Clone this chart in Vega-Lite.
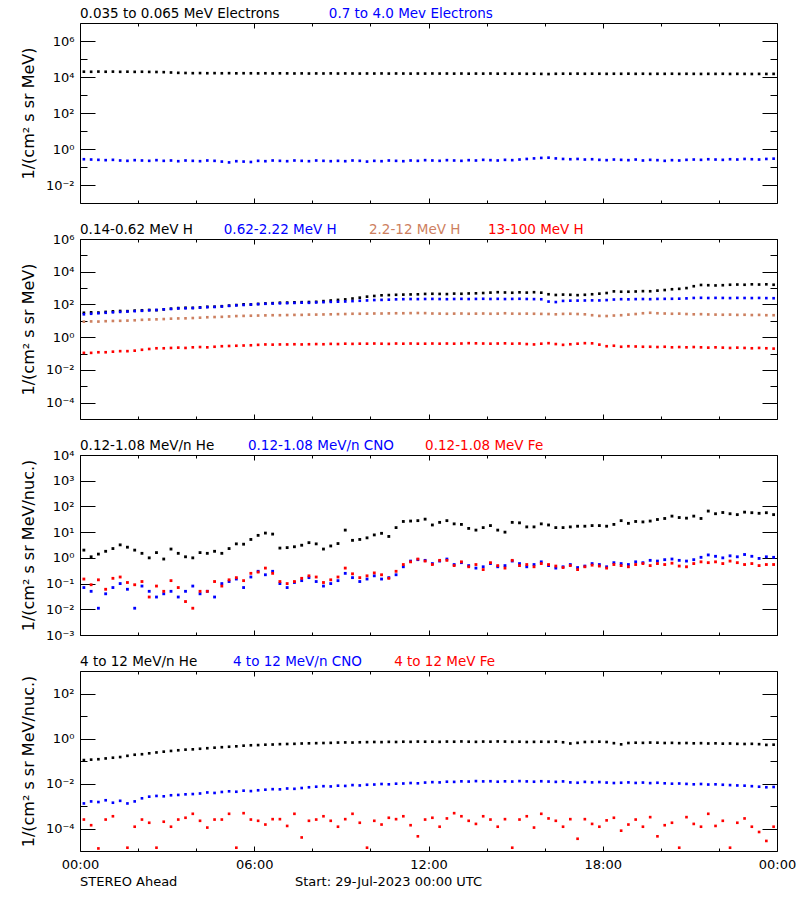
{
"$schema":"https://vega.github.io/schema/vega-lite/v6.json",
"background":"white",
"padding":{"left":19,"top":6,"right":5,"bottom":5},
"bounds":"flush",
"spacing":36,
"resolve":{"scale":{"color":"independent"}},
"config":{
 "view":{"stroke":"black","strokeWidth":1},
 "font":"DejaVu Sans",
 "axis":{"domain":false,"grid":false,"tickColor":"black","tickWidth":1,"labelColor":"black","titleColor":"black","labelFont":"DejaVu Sans","titleFont":"DejaVu Sans","titleFontWeight":"normal","labelFontSize":13,"titleFontSize":16,"labelOverlap":false,"labelFlush":false,"labelBound":false}
},
"datasets":{
"p1":[
{"m":8,"a":19800,"b":0.27},{"m":23,"a":19500,"b":0.26},{"m":38,"a":20000,"b":0.25},{"m":53,"a":19600,"b":0.24},{"m":68,"a":19900,"b":0.25},{"m":83,"a":19400,"b":0.23},{"m":98,"a":19700,"b":0.22},{"m":113,"a":19300,"b":0.24},{"m":128,"a":19600,"b":0.23},{"m":143,"a":19200,"b":0.22},{"m":158,"a":19000,"b":0.24},{"m":173,"a":18600,"b":0.22},
{"m":188,"a":17800,"b":0.23},{"m":203,"a":17000,"b":0.21},{"m":218,"a":16700,"b":0.23},{"m":233,"a":16300,"b":0.22},{"m":248,"a":16500,"b":0.21},{"m":263,"a":16200,"b":0.23},{"m":278,"a":16400,"b":0.22},{"m":293,"a":16100,"b":0.20},{"m":308,"a":16300,"b":0.18},{"m":323,"a":16000,"b":0.21},{"m":338,"a":16200,"b":0.20},{"m":353,"a":16100,"b":0.19},
{"m":368,"a":15900,"b":0.22},{"m":383,"a":16100,"b":0.21},{"m":398,"a":15800,"b":0.23},{"m":413,"a":16000,"b":0.22},{"m":428,"a":15900,"b":0.21},{"m":443,"a":15700,"b":0.23},{"m":458,"a":15900,"b":0.22},{"m":473,"a":15600,"b":0.21},{"m":488,"a":15800,"b":0.23},{"m":503,"a":15700,"b":0.22},{"m":518,"a":15900,"b":0.21},{"m":533,"a":15600,"b":0.22},
{"m":548,"a":15800,"b":0.21},{"m":563,"a":15700,"b":0.23},{"m":578,"a":15500,"b":0.22},{"m":593,"a":15700,"b":0.20},{"m":608,"a":15600,"b":0.22},{"m":623,"a":15800,"b":0.21},{"m":638,"a":15500,"b":0.23},{"m":653,"a":15700,"b":0.22},{"m":668,"a":15600,"b":0.21},{"m":683,"a":15400,"b":0.23},{"m":698,"a":15600,"b":0.22},{"m":713,"a":15500,"b":0.24},
{"m":728,"a":15700,"b":0.23},{"m":743,"a":15500,"b":0.22},{"m":758,"a":15600,"b":0.24},{"m":773,"a":15400,"b":0.23},{"m":788,"a":15600,"b":0.22},{"m":803,"a":15300,"b":0.24},{"m":818,"a":15500,"b":0.23},{"m":833,"a":15400,"b":0.25},{"m":848,"a":15600,"b":0.24},{"m":863,"a":15300,"b":0.23},{"m":878,"a":15500,"b":0.25},{"m":893,"a":15200,"b":0.24},
{"m":908,"a":15400,"b":0.26},{"m":923,"a":15100,"b":0.28},{"m":938,"a":15300,"b":0.30},{"m":953,"a":14900,"b":0.32},{"m":968,"a":14600,"b":0.33},{"m":983,"a":15100,"b":0.30},{"m":998,"a":15300,"b":0.28},{"m":1013,"a":15200,"b":0.27},{"m":1028,"a":15400,"b":0.28},{"m":1043,"a":15100,"b":0.26},{"m":1058,"a":15300,"b":0.27},{"m":1073,"a":15200,"b":0.25},
{"m":1088,"a":15000,"b":0.24},{"m":1103,"a":15200,"b":0.26},{"m":1118,"a":15100,"b":0.25},{"m":1133,"a":15300,"b":0.24},{"m":1148,"a":15000,"b":0.26},{"m":1163,"a":15200,"b":0.23},{"m":1178,"a":14900,"b":0.25},{"m":1193,"a":15100,"b":0.24},{"m":1208,"a":15000,"b":0.22},{"m":1223,"a":15200,"b":0.24},{"m":1238,"a":14900,"b":0.23},{"m":1253,"a":15100,"b":0.25},
{"m":1268,"a":15000,"b":0.26},{"m":1283,"a":14800,"b":0.25},{"m":1298,"a":15000,"b":0.27},{"m":1313,"a":14900,"b":0.26},{"m":1328,"a":15100,"b":0.25},{"m":1343,"a":14800,"b":0.27},{"m":1358,"a":15000,"b":0.26},{"m":1373,"a":14900,"b":0.28},{"m":1388,"a":14700,"b":0.27},{"m":1403,"a":14900,"b":0.26},{"m":1418,"a":14800,"b":0.28},{"m":1433,"a":14900,"b":0.29}
],
"p2":[
{"m":8,"a":31,"b":25,"c":8.9,"d":0.11},{"m":23,"a":33,"b":27,"c":9.2,"d":0.11},{"m":38,"a":32,"b":29,"c":9.0,"d":0.12},{"m":53,"a":35,"b":31,"c":9.5,"d":0.12},
{"m":68,"a":38,"b":33,"c":9.8,"d":0.13},{"m":83,"a":40,"b":35,"c":10,"d":0.14},{"m":98,"a":39,"b":37,"c":10.3,"d":0.14},{"m":113,"a":42,"b":39,"c":10.8,"d":0.15},
{"m":128,"a":44,"b":41,"c":11.5,"d":0.17},{"m":143,"a":46,"b":44,"c":12,"d":0.19},{"m":158,"a":45,"b":46,"c":12.3,"d":0.21},{"m":173,"a":50,"b":50,"c":12.8,"d":0.21},
{"m":188,"a":55,"b":53,"c":13.5,"d":0.22},{"m":203,"a":60,"b":57,"c":14,"d":0.23},{"m":218,"a":63,"b":58,"c":14.2,"d":0.22},{"m":233,"a":62,"b":60,"c":14.8,"d":0.24},
{"m":248,"a":66,"b":64,"c":15.5,"d":0.25},{"m":263,"a":72,"b":68,"c":16.5,"d":0.24},{"m":278,"a":73,"b":70,"c":17,"d":0.26},{"m":293,"a":78,"b":75,"c":17.5,"d":0.28},
{"m":308,"a":85,"b":82,"c":18.5,"d":0.29},{"m":323,"a":92,"b":88,"c":19.5,"d":0.30},{"m":338,"a":102,"b":93,"c":20,"d":0.31},{"m":353,"a":100,"b":98,"c":20.5,"d":0.32},
{"m":368,"a":108,"b":104,"c":21,"d":0.34},{"m":383,"a":115,"b":110,"c":21.5,"d":0.36},{"m":398,"a":120,"b":114,"c":22,"d":0.35},{"m":413,"a":128,"b":117,"c":22,"d":0.36},
{"m":428,"a":130,"b":120,"c":22.5,"d":0.36},{"m":443,"a":135,"b":124,"c":23,"d":0.37},{"m":458,"a":138,"b":128,"c":23,"d":0.36},{"m":473,"a":141,"b":126,"c":24,"d":0.37},
{"m":488,"a":145,"b":132,"c":24,"d":0.38},{"m":503,"a":160,"b":138,"c":24.5,"d":0.37},{"m":518,"a":175,"b":144,"c":25,"d":0.39},{"m":533,"a":190,"b":148,"c":25.5,"d":0.38},
{"m":548,"a":204,"b":152,"c":26,"d":0.40},{"m":563,"a":230,"b":160,"c":27,"d":0.39},{"m":578,"a":260,"b":168,"c":27,"d":0.40},{"m":593,"a":300,"b":176,"c":27.5,"d":0.40},
{"m":608,"a":330,"b":186,"c":28,"d":0.41},{"m":623,"a":363,"b":190,"c":28,"d":0.40},{"m":638,"a":375,"b":196,"c":28.5,"d":0.39},{"m":653,"a":390,"b":205,"c":29,"d":0.41},
{"m":668,"a":400,"b":210,"c":29,"d":0.40},{"m":683,"a":410,"b":214,"c":29.5,"d":0.41},{"m":698,"a":417,"b":212,"c":30,"d":0.40},{"m":713,"a":440,"b":216,"c":29.5,"d":0.40},
{"m":728,"a":450,"b":218,"c":28,"d":0.41},{"m":743,"a":440,"b":214,"c":27.5,"d":0.40},{"m":758,"a":430,"b":210,"c":27,"d":0.41},{"m":773,"a":460,"b":216,"c":27.5,"d":0.40},
{"m":788,"a":450,"b":220,"c":28,"d":0.41},{"m":803,"a":470,"b":214,"c":27,"d":0.43},{"m":818,"a":480,"b":218,"c":27.5,"d":0.42},{"m":833,"a":500,"b":222,"c":28,"d":0.41},
{"m":848,"a":530,"b":216,"c":27,"d":0.40},{"m":863,"a":560,"b":220,"c":27.5,"d":0.41},{"m":878,"a":540,"b":214,"c":29,"d":0.42},{"m":893,"a":520,"b":218,"c":27.5,"d":0.40},
{"m":908,"a":550,"b":222,"c":27,"d":0.41},{"m":923,"a":530,"b":216,"c":27.5,"d":0.38},{"m":938,"a":560,"b":212,"c":27,"d":0.36},{"m":953,"a":525,"b":208,"c":26.5,"d":0.40},
{"m":968,"a":420,"b":150,"c":26,"d":0.43},{"m":983,"a":380,"b":140,"c":25,"d":0.38},{"m":998,"a":400,"b":165,"c":26.5,"d":0.34},{"m":1013,"a":390,"b":170,"c":27,"d":0.37},
{"m":1028,"a":370,"b":172,"c":26,"d":0.40},{"m":1043,"a":390,"b":175,"c":25,"d":0.43},{"m":1058,"a":420,"b":178,"c":22,"d":0.42},{"m":1073,"a":457,"b":176,"c":20,"d":0.35},
{"m":1088,"a":500,"b":185,"c":19.6,"d":0.28},{"m":1103,"a":630,"b":200,"c":21,"d":0.30},{"m":1118,"a":600,"b":210,"c":22,"d":0.26},{"m":1133,"a":600,"b":205,"c":24,"d":0.28},
{"m":1148,"a":620,"b":212,"c":26,"d":0.27},{"m":1163,"a":650,"b":215,"c":29,"d":0.26},{"m":1178,"a":640,"b":210,"c":31,"d":0.26},{"m":1193,"a":700,"b":218,"c":29,"d":0.25},
{"m":1208,"a":760,"b":220,"c":28,"d":0.26},{"m":1223,"a":850,"b":222,"c":27,"d":0.24},{"m":1238,"a":900,"b":225,"c":27.5,"d":0.25},{"m":1253,"a":1000,"b":235,"c":26,"d":0.24},
{"m":1268,"a":1300,"b":250,"c":25,"d":0.25},{"m":1283,"a":1550,"b":255,"c":25.5,"d":0.24},{"m":1298,"a":1500,"b":248,"c":24.5,"d":0.23},{"m":1313,"a":1450,"b":252,"c":24,"d":0.24},
{"m":1328,"a":1500,"b":250,"c":23.5,"d":0.23},{"m":1343,"a":1600,"b":245,"c":24,"d":0.22},{"m":1358,"a":1650,"b":252,"c":23,"d":0.23},{"m":1373,"a":1600,"b":248,"c":23.5,"d":0.22},
{"m":1388,"a":1700,"b":246,"c":22.5,"d":0.21},{"m":1403,"a":1650,"b":250,"c":23,"d":0.22},{"m":1418,"a":1700,"b":244,"c":22,"d":0.21},{"m":1433,"a":1600,"b":240,"c":22,"d":0.20}
],
"p3":[
{"m":8,"a":2.0,"b":0.07,"c":0.15},{"m":23,"a":1.1,"b":0.05,"c":0.09},{"m":38,"a":1.4,"b":0.011,"c":0.14},{"m":53,"a":1.8,"b":0.04,"c":0.06},
{"m":68,"a":2.3,"b":0.07,"c":0.16},{"m":83,"a":3.2,"b":0.1,"c":0.18},{"m":98,"a":2.6,"b":0.06,"c":0.11},{"m":113,"a":2.0,"b":0.011,"c":0.09},
{"m":128,"a":1.5,"b":0.08,"c":0.12},{"m":143,"a":1.0,"b":0.05,"c":0.03},{"m":158,"a":1.6,"b":0.03,"c":0.08},{"m":173,"a":0.9,"b":0.04,"c":0.05},
{"m":188,"a":2.2,"b":0.05,"c":0.13},{"m":203,"a":1.5,"b":0.03,"c":0.07},{"m":218,"a":1.1,"b":0.05,"c":0.02},{"m":233,"a":1.0,"b":0.08,"c":0.011},
{"m":248,"a":1.6,"b":0.04,"c":0.05},{"m":263,"a":1.5,"b":0.05,"c":0.05},{"m":278,"a":1.8,"b":0.03,"c":0.12},{"m":293,"a":1.5,"b":0.1,"c":0.08},
{"m":308,"a":2.3,"b":0.12,"c":0.14},{"m":323,"a":3.5,"b":0.15,"c":0.17},{"m":338,"a":3.4,"b":0.07,"c":0.13},{"m":353,"a":5.2,"b":0.18,"c":0.25},
{"m":368,"a":7.5,"b":0.3,"c":0.28},{"m":383,"a":9.2,"b":0.22,"c":0.4},{"m":398,"a":8.4,"b":0.3,"c":0.25},{"m":413,"a":2.4,"b":0.1,"c":0.12},
{"m":428,"a":2.5,"b":0.07,"c":0.1},{"m":443,"a":2.7,"b":0.11,"c":0.12},{"m":458,"a":3.1,"b":0.13,"c":0.16},{"m":473,"a":3.9,"b":0.17,"c":0.2},
{"m":488,"a":3.5,"b":0.12,"c":0.18},{"m":503,"a":2.2,"b":0.08,"c":0.11},{"m":518,"a":2.9,"b":0.1,"c":0.14},{"m":533,"a":3.6,"b":0.13,"c":0.18},
{"m":548,"a":12,"b":0.25,"c":0.4},{"m":563,"a":4.8,"b":0.17,"c":0.24},{"m":578,"a":5.2,"b":0.12,"c":0.17},{"m":593,"a":6.0,"b":0.15,"c":0.2},
{"m":608,"a":7.8,"b":0.2,"c":0.26},{"m":623,"a":9.0,"b":0.15,"c":0.22},{"m":638,"a":6.8,"b":0.17,"c":0.16},{"m":653,"a":15,"b":0.22,"c":0.3},
{"m":668,"a":26,"b":0.45,"c":0.55},{"m":683,"a":27,"b":0.75,"c":0.7},{"m":698,"a":28,"b":0.85,"c":0.9},{"m":713,"a":32,"b":0.8,"c":0.75},
{"m":728,"a":19,"b":0.6,"c":0.55},{"m":743,"a":24,"b":0.75,"c":0.8},{"m":758,"a":28,"b":0.9,"c":0.8},{"m":773,"a":21,"b":0.55,"c":0.5},
{"m":788,"a":20,"b":0.65,"c":0.7},{"m":803,"a":14,"b":0.5,"c":0.45},{"m":818,"a":12,"b":0.4,"c":0.55},{"m":833,"a":15,"b":0.45,"c":0.35},
{"m":848,"a":18,"b":0.6,"c":0.65},{"m":863,"a":12,"b":0.45,"c":0.5},{"m":878,"a":10,"b":0.5,"c":0.4},{"m":893,"a":24,"b":0.75,"c":0.8},
{"m":908,"a":23,"b":0.6,"c":0.5},{"m":923,"a":16,"b":0.45,"c":0.55},{"m":938,"a":16,"b":0.55,"c":0.45},{"m":953,"a":21,"b":0.7,"c":0.6},
{"m":968,"a":19,"b":0.5,"c":0.55},{"m":983,"a":15,"b":0.4,"c":0.48},{"m":998,"a":15,"b":0.45,"c":0.42},{"m":1013,"a":16,"b":0.55,"c":0.5},
{"m":1028,"a":17,"b":0.42,"c":0.35},{"m":1043,"a":17,"b":0.48,"c":0.45},{"m":1058,"a":18,"b":0.6,"c":0.52},{"m":1073,"a":18,"b":0.55,"c":0.48},
{"m":1088,"a":17,"b":0.45,"c":0.4},{"m":1103,"a":20,"b":0.65,"c":0.55},{"m":1118,"a":28,"b":0.6,"c":0.5},{"m":1133,"a":22,"b":0.55,"c":0.45},
{"m":1148,"a":26,"b":0.7,"c":0.55},{"m":1163,"a":25,"b":0.65,"c":0.6},{"m":1178,"a":27,"b":0.8,"c":0.5},{"m":1193,"a":31,"b":0.75,"c":0.6},
{"m":1208,"a":34,"b":0.85,"c":0.55},{"m":1223,"a":42,"b":0.9,"c":0.62},{"m":1238,"a":37,"b":0.8,"c":0.48},{"m":1253,"a":35,"b":0.75,"c":0.45},
{"m":1268,"a":42,"b":0.85,"c":0.6},{"m":1283,"a":34,"b":1.05,"c":0.7},{"m":1298,"a":66,"b":1.3,"c":0.65},{"m":1313,"a":52,"b":1.15,"c":0.7},
{"m":1328,"a":58,"b":1.0,"c":0.6},{"m":1343,"a":52,"b":1.2,"c":0.75},{"m":1358,"a":48,"b":1.1,"c":0.65},{"m":1373,"a":60,"b":1.35,"c":0.55},
{"m":1388,"a":57,"b":1.15,"c":0.6},{"m":1403,"a":54,"b":0.95,"c":0.5},{"m":1418,"a":57,"b":1.1,"c":0.55},{"m":1433,"a":48,"b":1.05,"c":0.55}
],
"p4":[
{"m":8,"a":0.11,"b":0.0013,"c":0.00025},{"m":23,"a":0.115,"b":0.0016,"c":0.00014},{"m":38,"a":0.12,"b":0.0015,"c":0.000013},{"m":53,"a":0.13,"b":0.0018,"c":0.00025},
{"m":68,"a":0.14,"b":0.0014,"c":0.00035},{"m":83,"a":0.15,"b":0.0017},{"m":98,"a":0.17,"b":0.0013,"c":0.000014},{"m":113,"a":0.19,"b":0.0016,"c":0.00012},
{"m":128,"a":0.2,"b":0.0022,"c":0.00025},{"m":143,"a":0.22,"b":0.0026,"c":0.00018},{"m":158,"a":0.24,"b":0.0028,"c":0.000014},{"m":173,"a":0.26,"b":0.0027,"c":0.0002},
{"m":188,"a":0.28,"b":0.0030,"c":0.00012},{"m":203,"a":0.3,"b":0.0031,"c":0.00025},{"m":218,"a":0.32,"b":0.0033,"c":0.0003},{"m":233,"a":0.33,"b":0.0034,"c":0.00045},
{"m":248,"a":0.35,"b":0.0036,"c":0.00022},{"m":263,"a":0.37,"b":0.0040,"c":0.00011},{"m":278,"a":0.39,"b":0.0038,"c":0.00025},{"m":293,"a":0.41,"b":0.0042,"c":0.00025},
{"m":308,"a":0.43,"b":0.0045,"c":0.00045},{"m":323,"a":0.45,"b":0.0043,"c":0.000014},{"m":338,"a":0.48,"b":0.0048,"c":0.00048},{"m":353,"a":0.5,"b":0.0046,"c":0.00025},
{"m":368,"a":0.51,"b":0.0050,"c":0.00022},{"m":383,"a":0.53,"b":0.0053,"c":0.00015},{"m":398,"a":0.54,"b":0.0056,"c":0.00026},{"m":413,"a":0.56,"b":0.0055,"c":0.00026},
{"m":428,"a":0.57,"b":0.0060,"c":0.00013},{"m":443,"a":0.58,"b":0.0058,"c":0.00045},{"m":458,"a":0.6,"b":0.0063,"c":0.00004},{"m":473,"a":0.61,"b":0.0068,"c":0.00022},
{"m":488,"a":0.62,"b":0.0072,"c":0.00025},{"m":503,"a":0.63,"b":0.0076,"c":0.00035},{"m":518,"a":0.64,"b":0.0074,"c":0.00022},{"m":533,"a":0.66,"b":0.0080,"c":0.00012},
{"m":548,"a":0.67,"b":0.0078,"c":0.00026},{"m":563,"a":0.66,"b":0.0085,"c":0.00045},{"m":578,"a":0.68,"b":0.0082,"c":0.00018},{"m":593,"a":0.69,"b":0.0088,"c":0.000014},
{"m":608,"a":0.7,"b":0.0090,"c":0.00022},{"m":623,"a":0.69,"b":0.0095,"c":0.00015},{"m":638,"a":0.71,"b":0.0092,"c":0.0003},{"m":653,"a":0.7,"b":0.0098,"c":0.00026},
{"m":668,"a":0.72,"b":0.0100,"c":0.00035},{"m":683,"a":0.71,"b":0.0105,"c":0.00014},{"m":698,"a":0.73,"b":0.0102,"c":0.000045},{"m":713,"a":0.72,"b":0.0110,"c":0.00025},
{"m":728,"a":0.72,"b":0.0115,"c":0.0003},{"m":743,"a":0.71,"b":0.0112,"c":0.00012},{"m":758,"a":0.73,"b":0.0120,"c":0.00028},{"m":773,"a":0.72,"b":0.0118,"c":0.00048},
{"m":788,"a":0.74,"b":0.0125,"c":0.00035},{"m":803,"a":0.72,"b":0.0122,"c":0.00022},{"m":818,"a":0.71,"b":0.0128,"c":0.00016},{"m":833,"a":0.73,"b":0.0124,"c":0.00035},
{"m":848,"a":0.72,"b":0.0126,"c":0.00025},{"m":863,"a":0.74,"b":0.0120,"c":0.00012},{"m":878,"a":0.73,"b":0.0125,"c":0.00026},{"m":893,"a":0.71,"b":0.0122,"c":0.000014},
{"m":908,"a":0.72,"b":0.0128,"c":0.00025},{"m":923,"a":0.7,"b":0.0124,"c":0.00035},{"m":938,"a":0.71,"b":0.0120,"c":0.00011},{"m":953,"a":0.72,"b":0.0126,"c":0.00045},
{"m":968,"a":0.71,"b":0.0122,"c":0.00028},{"m":983,"a":0.73,"b":0.0118,"c":0.00022},{"m":998,"a":0.68,"b":0.0124,"c":0.00012},{"m":1013,"a":0.6,"b":0.0112,"c":0.00026},
{"m":1028,"a":0.64,"b":0.0108,"c":0.000035},{"m":1043,"a":0.7,"b":0.0118,"c":0.00026},{"m":1058,"a":0.71,"b":0.0112,"c":0.00016},{"m":1073,"a":0.72,"b":0.0116,"c":0.00012},
{"m":1088,"a":0.7,"b":0.0110,"c":0.00023},{"m":1103,"a":0.62,"b":0.0105,"c":0.0003},{"m":1118,"a":0.55,"b":0.0108,"c":0.00008},{"m":1133,"a":0.63,"b":0.0112,"c":0.00015},
{"m":1148,"a":0.65,"b":0.0106,"c":0.00025},{"m":1163,"a":0.64,"b":0.0110,"c":0.00012},{"m":1178,"a":0.66,"b":0.0104,"c":0.00032},{"m":1193,"a":0.65,"b":0.0108,"c":0.000045},
{"m":1208,"a":0.63,"b":0.0102,"c":0.00014},{"m":1223,"a":0.64,"b":0.0098,"c":0.00018},{"m":1238,"a":0.62,"b":0.0100,"c":0.000014},{"m":1253,"a":0.63,"b":0.0096,"c":0.00032},
{"m":1268,"a":0.61,"b":0.0092,"c":0.00016},{"m":1283,"a":0.62,"b":0.0095,"c":0.00012},{"m":1298,"a":0.6,"b":0.0090,"c":0.00045},{"m":1313,"a":0.61,"b":0.0092,"c":0.00013},
{"m":1328,"a":0.59,"b":0.0088,"c":0.00022},{"m":1343,"a":0.6,"b":0.0085,"c":0.000014},{"m":1358,"a":0.58,"b":0.0082,"c":0.00018},{"m":1373,"a":0.57,"b":0.0080,"c":0.00028},
{"m":1388,"a":0.58,"b":0.0076,"c":0.00012},{"m":1403,"a":0.56,"b":0.0072,"c":0.00007},{"m":1418,"a":0.52,"b":0.0068,"c":0.000028},{"m":1433,"a":0.53,"b":0.0070,"c":0.00012}
]
},
"vconcat":[
{
"width":697,"height":180,
"resolve":{"axis":{"x":"independent","y":"independent"}},
"layer":[
 {"data":{"name":"p1"},
  "transform":[{"fold":["a","b"],"as":["s","v"]}],
  "mark":{"type":"square","size":7,"opacity":1},
  "encoding":{
   "x":{"field":"m","type":"quantitative","scale":{"domain":[0,1440],"nice":false,"zero":false},"axis":{"orient":"bottom","values":[0,120,240,360,480,600,720,840,960,1080,1200,1320,1440],"title":null,"labels":false,"tickSize":{"condition":{"test":"datum.value % 360 == 0","value":-5},"value":-3}}},
   "y":{"field":"v","type":"quantitative","scale":{"type":"log","domain":[0.001,10000000],"nice":false},"axis":{"orient":"left","values":[0.01,0.1,1,10,100,1000,10000,100000,1000000],"title":"1/(cm² s sr MeV)","titlePadding":9,"labelPadding":21,"tickSize":{"condition":{"test":"abs(round(log(datum.value)/LN10)) % 2 == 0","value":-15},"value":-7},"labelExpr":"abs(round(log(datum.value)/LN10)) % 2 == 1 ? '' : '10' + replace(replace(replace(replace(replace(''+round(log(datum.value)/LN10),'-','⁻'),'0','⁰'),'2','²'),'4','⁴'),'6','⁶')"}},
   "color":{"field":"s","type":"nominal","scale":{"domain":["a","b"],"range":["#000000","#0000ff"]},"legend":null}
  }},
 {"data":{"values":[{"m":0,"v":10000000,"s":"a","label":"0.035 to 0.065 MeV Electrons"},{"m":514,"v":10000000,"s":"b","label":"0.7 to 4.0 Mev Electrons"}]},
  "mark":{"type":"text","align":"left","baseline":"alphabetic","dy":-5,"fontSize":13.5},
  "encoding":{
   "x":{"field":"m","type":"quantitative","scale":{"domain":[0,1440],"nice":false,"zero":false},"axis":{"orient":"top","values":[0,120,240,360,480,600,720,840,960,1080,1200,1320,1440],"title":null,"labels":false,"tickSize":{"condition":{"test":"datum.value % 360 == 0","value":-5},"value":-3}}},
   "y":{"field":"v","type":"quantitative","scale":{"type":"log","domain":[0.001,10000000],"nice":false},"axis":{"orient":"right","values":[0.01,0.1,1,10,100,1000,10000,100000,1000000],"title":null,"labels":false,"tickSize":{"condition":{"test":"abs(round(log(datum.value)/LN10)) % 2 == 0","value":-15},"value":-7}}},
   "color":{"field":"s","type":"nominal","scale":{"domain":["a","b"],"range":["#000000","#0000ff"]},"legend":null},
   "text":{"field":"label"}
  }}
]
},
{
"width":697,"height":180,
"resolve":{"axis":{"x":"independent","y":"independent"}},
"layer":[
 {"data":{"name":"p2"},
  "transform":[{"fold":["a","b","c","d"],"as":["s","v"]}],
  "mark":{"type":"square","size":7,"opacity":1},
  "encoding":{
   "x":{"field":"m","type":"quantitative","scale":{"domain":[0,1440],"nice":false,"zero":false},"axis":{"orient":"bottom","values":[0,120,240,360,480,600,720,840,960,1080,1200,1320,1440],"title":null,"labels":false,"tickSize":{"condition":{"test":"datum.value % 360 == 0","value":-5},"value":-3}}},
   "y":{"field":"v","type":"quantitative","scale":{"type":"log","domain":[0.00001,1000000],"nice":false},"axis":{"orient":"left","values":[0.0001,0.001,0.01,0.1,1,10,100,1000,10000,100000,1000000],"title":"1/(cm² s sr MeV)","titlePadding":9,"labelPadding":21,"tickSize":{"condition":{"test":"abs(round(log(datum.value)/LN10)) % 2 == 0","value":-15},"value":-7},"labelExpr":"abs(round(log(datum.value)/LN10)) % 2 == 1 ? '' : '10' + replace(replace(replace(replace(replace(''+round(log(datum.value)/LN10),'-','⁻'),'0','⁰'),'2','²'),'4','⁴'),'6','⁶')"}},
   "color":{"field":"s","type":"nominal","scale":{"domain":["a","b","c","d"],"range":["#000000","#0000ff","#cd8060","#ff0000"]},"legend":null}
  }},
 {"data":{"values":[{"m":0,"v":1000000,"s":"a","label":"0.14-0.62 MeV H"},{"m":297,"v":1000000,"s":"b","label":"0.62-2.22 MeV H"},{"m":597,"v":1000000,"s":"c","label":"2.2-12 MeV H"},{"m":843,"v":1000000,"s":"d","label":"13-100 MeV H"}]},
  "mark":{"type":"text","align":"left","baseline":"alphabetic","dy":-5,"fontSize":13.5},
  "encoding":{
   "x":{"field":"m","type":"quantitative","scale":{"domain":[0,1440],"nice":false,"zero":false},"axis":{"orient":"top","values":[0,120,240,360,480,600,720,840,960,1080,1200,1320,1440],"title":null,"labels":false,"tickSize":{"condition":{"test":"datum.value % 360 == 0","value":-5},"value":-3}}},
   "y":{"field":"v","type":"quantitative","scale":{"type":"log","domain":[0.00001,1000000],"nice":false},"axis":{"orient":"right","values":[0.0001,0.001,0.01,0.1,1,10,100,1000,10000,100000,1000000],"title":null,"labels":false,"tickSize":{"condition":{"test":"abs(round(log(datum.value)/LN10)) % 2 == 0","value":-15},"value":-7}}},
   "color":{"field":"s","type":"nominal","scale":{"domain":["a","b","c","d"],"range":["#000000","#0000ff","#cd8060","#ff0000"]},"legend":null},
   "text":{"field":"label"}
  }}
]
},
{
"width":697,"height":180,
"resolve":{"axis":{"x":"independent","y":"independent"}},
"layer":[
 {"data":{"name":"p3"},
  "transform":[{"fold":["a","b","c"],"as":["s","v"]}],
  "mark":{"type":"square","size":8,"opacity":1},
  "encoding":{
   "x":{"field":"m","type":"quantitative","scale":{"domain":[0,1440],"nice":false,"zero":false},"axis":{"orient":"bottom","values":[0,120,240,360,480,600,720,840,960,1080,1200,1320,1440],"title":null,"labels":false,"tickSize":{"condition":{"test":"datum.value % 360 == 0","value":-5},"value":-3}}},
   "y":{"field":"v","type":"quantitative","scale":{"type":"log","domain":[0.001,10000],"nice":false},"axis":{"orient":"left","values":[0.001,0.01,0.1,1,10,100,1000,10000],"title":"1/(cm² s sr MeV/nuc.)","titlePadding":9,"labelPadding":21,"tickSize":-15,"labelExpr":"'10' + replace(replace(replace(replace(replace(replace(''+round(log(datum.value)/LN10),'-','⁻'),'0','⁰'),'1','¹'),'2','²'),'3','³'),'4','⁴')"}},
   "color":{"field":"s","type":"nominal","scale":{"domain":["a","b","c"],"range":["#000000","#0000ff","#ff0000"]},"legend":null}
  }},
 {"data":{"values":[{"m":0,"v":10000,"s":"a","label":"0.12-1.08 MeV/n He"},{"m":347,"v":10000,"s":"b","label":"0.12-1.08 MeV/n CNO"},{"m":713,"v":10000,"s":"c","label":"0.12-1.08 MeV Fe"}]},
  "mark":{"type":"text","align":"left","baseline":"alphabetic","dy":-5,"fontSize":13.5},
  "encoding":{
   "x":{"field":"m","type":"quantitative","scale":{"domain":[0,1440],"nice":false,"zero":false},"axis":{"orient":"top","values":[0,120,240,360,480,600,720,840,960,1080,1200,1320,1440],"title":null,"labels":false,"tickSize":{"condition":{"test":"datum.value % 360 == 0","value":-5},"value":-3}}},
   "y":{"field":"v","type":"quantitative","scale":{"type":"log","domain":[0.001,10000],"nice":false},"axis":{"orient":"right","values":[0.001,0.01,0.1,1,10,100,1000,10000],"title":null,"labels":false,"tickSize":-15}},
   "color":{"field":"s","type":"nominal","scale":{"domain":["a","b","c"],"range":["#000000","#0000ff","#ff0000"]},"legend":null},
   "text":{"field":"label"}
  }}
]
},
{
"width":697,"height":180,
"resolve":{"axis":{"x":"independent","y":"independent"}},
"layer":[
 {"data":{"name":"p4"},
  "transform":[{"fold":["a","b","c"],"as":["s","v"]}],
  "mark":{"type":"square","size":7,"opacity":1},
  "encoding":{
   "x":{"field":"m","type":"quantitative","scale":{"domain":[0,1440],"nice":false,"zero":false},"axis":{"orient":"bottom","values":[0,120,240,360,480,600,720,840,960,1080,1200,1320,1440],"title":null,"labelPadding":12,"labelExpr":"datum.value % 360 != 0 ? '' : (datum.value == 360 ? '06:00' : datum.value == 720 ? '12:00' : datum.value == 1080 ? '18:00' : '00:00')","tickSize":{"condition":{"test":"datum.value % 360 == 0","value":-5},"value":-3}}},
   "y":{"field":"v","type":"quantitative","scale":{"type":"log","domain":[0.00001,1000],"nice":false},"axis":{"orient":"left","values":[0.0001,0.001,0.01,0.1,1,10,100],"title":"1/(cm² s sr MeV/nuc.)","titlePadding":9,"labelPadding":21,"tickSize":{"condition":{"test":"abs(round(log(datum.value)/LN10)) % 2 == 0","value":-15},"value":-7},"labelExpr":"abs(round(log(datum.value)/LN10)) % 2 == 1 ? '' : '10' + replace(replace(replace(replace(replace(''+round(log(datum.value)/LN10),'-','⁻'),'0','⁰'),'2','²'),'4','⁴'),'6','⁶')"}},
   "color":{"field":"s","type":"nominal","scale":{"domain":["a","b","c"],"range":["#000000","#0000ff","#ff0000"]},"legend":null}
  }},
 {"data":{"values":[{"m":0,"v":1000,"s":"a","label":"4 to 12 MeV/n He"},{"m":316,"v":1000,"s":"b","label":"4 to 12 MeV/n CNO"},{"m":649,"v":1000,"s":"c","label":"4 to 12 MeV Fe"}]},
  "mark":{"type":"text","align":"left","baseline":"alphabetic","dy":-5,"fontSize":13.5},
  "encoding":{
   "x":{"field":"m","type":"quantitative","scale":{"domain":[0,1440],"nice":false,"zero":false},"axis":{"orient":"top","values":[0,120,240,360,480,600,720,840,960,1080,1200,1320,1440],"title":null,"labels":false,"tickSize":{"condition":{"test":"datum.value % 360 == 0","value":-5},"value":-3}}},
   "y":{"field":"v","type":"quantitative","scale":{"type":"log","domain":[0.00001,1000],"nice":false},"axis":{"orient":"right","values":[0.0001,0.001,0.01,0.1,1,10,100],"title":null,"labels":false,"tickSize":{"condition":{"test":"abs(round(log(datum.value)/LN10)) % 2 == 0","value":-15},"value":-7}}},
   "color":{"field":"s","type":"nominal","scale":{"domain":["a","b","c"],"range":["#000000","#0000ff","#ff0000"]},"legend":null},
   "text":{"field":"label"}
  }},
 {"data":{"values":[{"m":0,"v":0.00001,"label":"STEREO Ahead"},{"m":444,"v":0.00001,"label":"Start: 29-Jul-2023 00:00 UTC"}]},
  "mark":{"type":"text","align":"left","baseline":"alphabetic","dy":35,"fontSize":13,"color":"black"},
  "encoding":{
   "x":{"field":"m","type":"quantitative","scale":{"domain":[0,1440],"nice":false,"zero":false},"axis":null},
   "y":{"field":"v","type":"quantitative","scale":{"type":"log","domain":[0.00001,1000],"nice":false},"axis":null},
   "text":{"field":"label"}
  }}
]
}
]
}
